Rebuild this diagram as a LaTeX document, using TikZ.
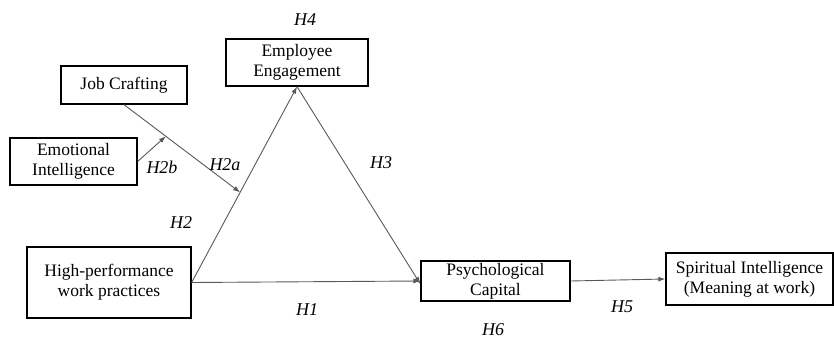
\documentclass[tikz,border=0pt]{standalone}
\usepackage{fontspec}
\setmainfont{Liberation Serif}
\usetikzlibrary{arrows.meta,calc}
\tikzset{var/.style={draw=black,line width=1.3pt,align=center,inner sep=0pt,
  font=\fontsize{17.5}{20}\selectfont}}
\tikzset{path/.style={draw=black!65,line width=0.9pt,-{Latex[length=7pt,width=5pt]}}}
\tikzset{hyp/.style={font=\fontsize{18}{20}\selectfont\itshape}}

\begin{document}
\begin{tikzpicture}[x=1pt,y=-1pt]
      \useasboundingbox (0,0) rectangle (834,339);
      % variables
      \node [var,minimum width=126pt,minimum height=38pt] (jc) at (124,85) {Job Crafting};
      \node [var,minimum width=127pt,minimum height=47pt] (ei) at (73.5,161.5) {Emotional\\Intelligence};
      \node [var,minimum width=142pt,minimum height=47pt] (ee) at (297,62.5) {Employee\\Engagement};
      \node [var,minimum width=164pt,minimum height=71pt] (hp) at (109,282.5) {High-performance\\work practices};
      \node [var,minimum width=149pt,minimum height=40pt] (pc) at (495.5,281) {Psychological\\Capital};
      \node [var,minimum width=167pt,minimum height=52pt] (si) at (749.5,279) {Spiritual Intelligence\\(Meaning at work)};
      % moderation points
      \coordinate (m1) at ($(hp.east)!0.46!(ee.south)$);
      \coordinate (m2) at ($(jc.south)!0.36!(m1)$);
      % paths
      \draw [path] (hp.east) -- (pc.west);
      \draw [path] (hp.east) -- (ee.south);
      \draw [path] (ee.south) -- ([yshift=-3pt]pc.west);
      \draw [path] (jc.south) -- (m1);
      \draw [path] (ei.east) -- (m2);
      \draw [path] (pc.east) -- (si.west);
      % hypotheses
      \node [hyp] (h4) at (305,20) {H4};
      \node [hyp] (h2b) at (162,167) {H2b};
      \node [hyp] (h2a) at (225,165) {H2a};
      \node [hyp] (h2) at (181,223) {H2};
      \node [hyp] (h3) at (381,163) {H3};
      \node [hyp] (h1) at (307,310) {H1};
      \node [hyp] (h6) at (493,330) {H6};
      \node [hyp] (h5) at (622,307) {H5};
    \end{tikzpicture}
\end{document}
